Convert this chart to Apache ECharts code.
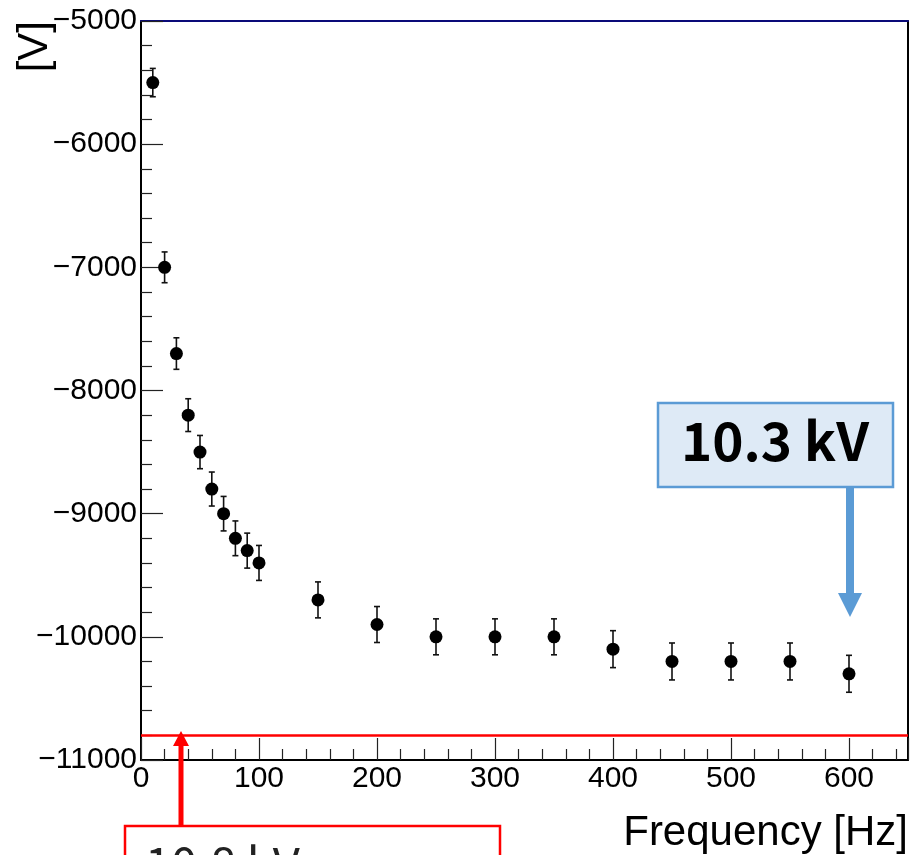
<!DOCTYPE html>
<html>
<head>
<meta charset="utf-8">
<script src="https://cdn.jsdelivr.net/npm/echarts@6/dist/echarts.min.js"></script>
<style>
html,body{margin:0;padding:0;background:#fff;}
#chart{width:912px;height:855px;}
</style>
</head>
<body>
<div id="chart"></div>
<script>
// ---- data ----
const freqs    = [10, 20, 30, 40, 50, 60, 70, 80, 90, 100, 150, 200, 250, 300, 350, 400, 450, 500, 550, 600];
const voltages = [-5500, -7000, -7700, -8200, -8500, -8800, -9000, -9200, -9300, -9400, -9700, -9900, -10000, -10000, -10000, -10100, -10200, -10200, -10200, -10300];
const errors   = [115, 125, 128, 133, 135, 138, 140, 141, 142, 142, 146, 146, 146, 146, 146, 150, 150, 150, 150, 150];
const threshold = -10800;
const xTicks = [0, 100, 200, 300, 400, 500, 600];
const yTicks = [-11000, -10000, -9000, -8000, -7000, -6000, -5000];
const xTitle = 'Frequency [Hz]';
const yTitle = '[V]';
const noteBlue = '10.3 kV';
const noteRed = '10.8 kV';

const points = freqs.map((f, i) => [f, voltages[i], errors[i]]);
const labelFont = 'Liberation Sans, Arial, Helvetica, sans-serif';
const fmtNum = v => (v < 0 ? '\u2212' + Math.abs(v) : String(v));

const chart = echarts.init(document.getElementById('chart'), null, {renderer: 'canvas'});

const option = {
  animation: false,
  backgroundColor: '#ffffff',
  grid: {left: 141, right: 4, top: 21, bottom: 95, containLabel: false, outerBoundsMode: 'none'},
  xAxis: [{
    type: 'value', min: 0, max: 650, interval: 100,
    axisLine: {show: true, onZero: false, lineStyle: {color: '#000', width: 2}},
    axisTick: {show: true, inside: true, length: 22, lineStyle: {color: '#222', width: 1.2}},
    minorTick: {show: true, splitNumber: 5, length: 11, lineStyle: {color: '#222', width: 1.2}},
    splitLine: {show: false},
    axisLabel: {
      show: true, margin: 4, color: '#000', fontSize: 30, fontFamily: labelFont,
      formatter: v => (xTicks.indexOf(v) >= 0 ? fmtNum(v) : '')
    }
  }, {
    type: 'value', min: 0, max: 650, position: 'top',
    axisLine: {show: true, onZero: false, lineStyle: {color: '#0a0a78', width: 2}},
    axisTick: {show: false}, axisLabel: {show: false}, splitLine: {show: false}
  }],
  yAxis: [{
    type: 'value', min: -11000, max: -5000, interval: 1000,
    axisLine: {show: true, onZero: false, lineStyle: {color: '#000', width: 2}},
    axisTick: {show: true, inside: true, length: 22, lineStyle: {color: '#222', width: 1.2}},
    minorTick: {show: true, splitNumber: 5, length: 11, lineStyle: {color: '#222', width: 1.2}},
    splitLine: {show: false},
    axisLabel: {
      show: true, margin: 4, color: '#000', fontSize: 30, fontFamily: labelFont,
      formatter: v => (yTicks.indexOf(v) >= 0 ? fmtNum(v) : '')
    }
  }, {
    type: 'value', min: -11000, max: -5000, position: 'right',
    axisLine: {show: true, onZero: false, lineStyle: {color: '#000', width: 2}},
    axisTick: {show: false}, axisLabel: {show: false}, splitLine: {show: false}
  }],
  series: [{
    type: 'custom',
    name: 'errors',
    xAxisIndex: 0, yAxisIndex: 0,
    data: points,
    z: 3,
    renderItem: function (params, api) {
      const x = api.value(0), y = api.value(1), e = api.value(2);
      const top = api.coord([x, y + e]);
      const bot = api.coord([x, y - e]);
      const cap = 3;
      const st = {stroke: '#111', lineWidth: 1.6};
      return {
        type: 'group',
        children: [
          {type: 'line', shape: {x1: top[0], y1: top[1], x2: bot[0], y2: bot[1]}, style: st},
          {type: 'line', shape: {x1: top[0] - cap, y1: top[1], x2: top[0] + cap, y2: top[1]}, style: st},
          {type: 'line', shape: {x1: bot[0] - cap, y1: bot[1], x2: bot[0] + cap, y2: bot[1]}, style: st}
        ]
      };
    }
  }, {
    type: 'scatter',
    name: 'voltage',
    xAxisIndex: 0, yAxisIndex: 0,
    data: points.map(p => [p[0], p[1]]),
    symbol: 'circle',
    symbolSize: 13,
    itemStyle: {color: '#000', opacity: 1},
    z: 4,
    markLine: {
      silent: true,
      symbol: ['none', 'none'],
      label: {show: false},
      lineStyle: {color: '#ff0000', width: 2.5, type: 'solid', opacity: 1},
      data: [{yAxis: threshold}]
    }
  }],
  graphic: [
    // axis titles
    {type: 'text', x: 908, y: 833, z: 10,
     style: {text: xTitle, fill: '#000', font: '42px ' + labelFont, textAlign: 'right', textVerticalAlign: 'middle'}},
    {type: 'text', x: 35, y: 21, rotation: Math.PI / 2, z: 10,
     style: {text: yTitle, fill: '#000', font: '42px ' + labelFont, textAlign: 'right', textVerticalAlign: 'middle'}},
    // blue annotation
    {type: 'rect', z: 20, shape: {x: 658, y: 403, width: 235, height: 84},
     style: {fill: '#deeaf6', stroke: '#5b9bd5', lineWidth: 2.5}},
    {type: 'text', x: 775, y: 441, z: 21,
     style: {text: noteBlue, fill: '#000', font: 'bold 53px "Noto Sans CJK JP", "Noto Sans", sans-serif',
             textAlign: 'center', textVerticalAlign: 'middle'}},
    {type: 'polygon', z: 20,
     shape: {points: [[846, 488], [854, 488], [854, 593], [862, 593], [850, 617], [838, 593], [846, 593]]},
     style: {fill: '#5b9bd5'}},
    // red annotation
    {type: 'polygon', z: 20,
     shape: {points: [[178.5, 826], [183.5, 826], [183.5, 746], [189, 746], [181, 731], [173, 746], [178.5, 746]]},
     style: {fill: '#ff0000'}},
    {type: 'rect', z: 20, shape: {x: 125, y: 826, width: 375, height: 60},
     style: {fill: '#ffffff', stroke: '#ff0000', lineWidth: 2.5}},
    {type: 'text', x: 145, y: 864, z: 21,
     style: {text: noteRed, fill: '#222', font: '47px "Noto Sans CJK JP", "Noto Sans", sans-serif',
             textAlign: 'left', textVerticalAlign: 'middle'}}
  ]
};

chart.setOption(option);
</script>
</body>
</html>
